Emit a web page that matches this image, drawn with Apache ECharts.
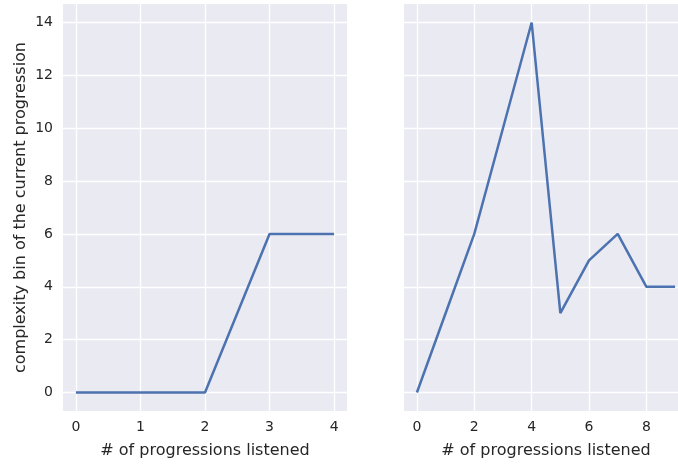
<!DOCTYPE html>
<html>
<head>
<meta charset="utf-8">
<script src="https://cdn.jsdelivr.net/npm/echarts@6/dist/echarts.min.js"></script>
<style>
  html, body { margin: 0; padding: 0; background: #fff; overflow: hidden; width: 678px; height: 464px; }
  /* a bit wider than the window: the right panel is cut off at the edge in the source */
  #chart { width: 690px; height: 464px; }
</style>
</head>
<body>
<div id="chart"></div>
<script>
// data
var leftX = [0, 1, 2, 3, 4];
var leftY = [0, 0, 0, 6, 6];
var rightX = [0, 1, 2, 3, 4, 5, 6, 7, 8, 9];
var rightY = [0, 3, 6, 10, 14, 3, 5, 6, 4, 4];

var leftXTicks = [0, 1, 2, 3, 4];
var rightXTicks = [0, 2, 4, 6, 8];
var yTicks = [0, 2, 4, 6, 8, 10, 12, 14];

var FONT = 'DejaVu Sans';
var TXT = '#262626';
var LINE = '#4c72b0';

function pairs(xs, ys) {
    return xs.map(function (x, i) { return [x, ys[i]]; });
}

function xAxis(idx, min, max, ticks) {
    return {
        type: 'value',
        gridIndex: idx,
        min: min,
        max: max,
        name: '# of progressions listened',
        nameLocation: 'middle',
        nameGap: 32,
        nameTextStyle: { fontFamily: FONT, fontSize: 16, color: TXT },
        axisLine: { show: false },
        axisTick: { show: true, length: 0, customValues: ticks },
        axisLabel: { customValues: ticks, fontFamily: FONT, fontSize: 14, color: TXT, margin: 9 },
        splitLine: { show: true, lineStyle: { color: '#fff', width: 1.3 } }
    };
}

function yAxis(idx, showLabels) {
    var ax = {
        type: 'value',
        gridIndex: idx,
        min: -0.7,
        max: 14.7,
        axisLine: { show: false },
        axisTick: { show: true, length: 0, customValues: yTicks },
        axisLabel: { show: showLabels, customValues: yTicks, fontFamily: FONT, fontSize: 14, color: TXT, margin: 10 },
        splitLine: { show: true, lineStyle: { color: '#fff', width: 1.3 } }
    };
    if (showLabels) {
        ax.name = 'complexity bin of the current progression';
        ax.nameLocation = 'middle';
        ax.nameGap = 34;
        ax.nameTextStyle = { fontFamily: FONT, fontSize: 16, color: TXT };
    }
    return ax;
}

var chart = echarts.init(document.getElementById('chart'), null, { renderer: 'canvas' });

chart.setOption({
    animation: false,
    backgroundColor: '#fff',
    grid: [
        { left: 63, top: 4, width: 284, bottom: 53, show: true, backgroundColor: '#eaeaf2', borderWidth: 0 },
        { left: 404, top: 4, width: 284, bottom: 53, show: true, backgroundColor: '#eaeaf2', borderWidth: 0 }
    ],
    xAxis: [
        xAxis(0, -0.2, 4.2, leftXTicks),
        xAxis(1, -0.45, 9.45, rightXTicks)
    ],
    yAxis: [
        yAxis(0, true),
        yAxis(1, false)
    ],
    series: [
        {
            type: 'line', xAxisIndex: 0, yAxisIndex: 0,
            data: pairs(leftX, leftY),
            showSymbol: false, symbol: 'none',
            lineStyle: { color: LINE, width: 2.5 }
        },
        {
            type: 'line', xAxisIndex: 1, yAxisIndex: 1,
            data: pairs(rightX, rightY),
            showSymbol: false, symbol: 'none',
            lineStyle: { color: LINE, width: 2.5 }
        }
    ]
});
</script>
</body>
</html>
